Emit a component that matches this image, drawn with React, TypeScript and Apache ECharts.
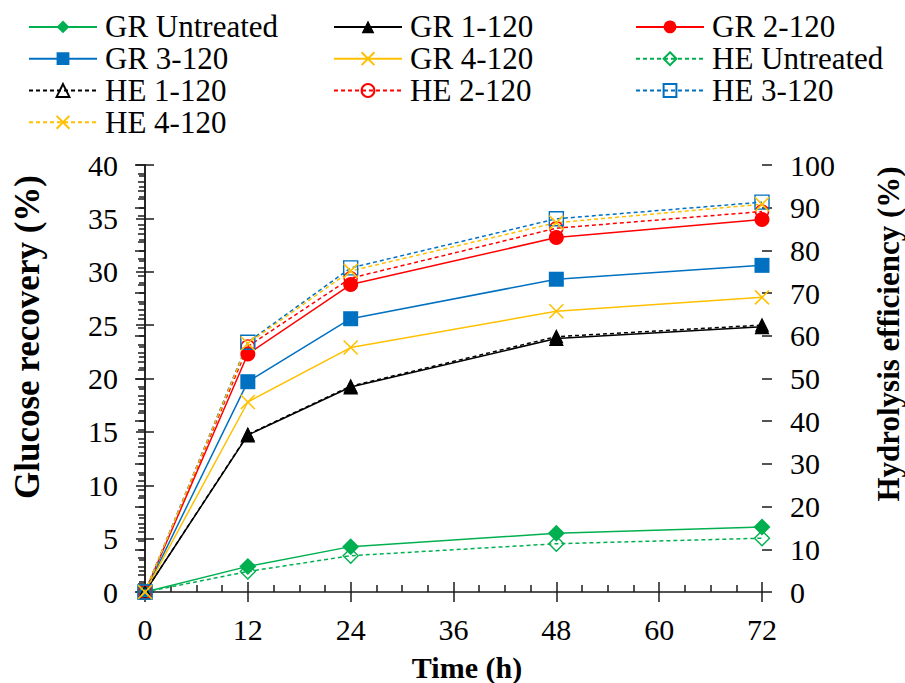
import React, { useEffect, useRef } from "react";
import * as echarts from "echarts";

const times = [0, 12, 24, 48, 72];
const grUntreated = [0, 2.4, 4.25, 5.5, 6.1];
const gr1 = [0, 14.7, 19.2, 23.75, 24.85];
const gr2 = [0, 22.3, 28.8, 33.2, 34.9];
const gr3 = [0, 19.7, 25.6, 29.3, 30.6];
const gr4 = [0, 17.8, 22.9, 26.3, 27.6];
const heUntreated = [0, 4.8, 8.5, 11.3, 12.6];
const he1 = [0, 36.9, 48.2, 59.8, 62.5];
const he2 = [0, 57.5, 73.5, 85.2, 89.1];
const he3 = [0, 58.5, 75.9, 87.4, 91.3];
const he4 = [0, 58.2, 75.2, 86.5, 90.8];

const xTicks = [0, 12, 24, 36, 48, 60, 72];
const leftTicks = [0, 40, 5];
const rightTicks = [0, 100, 10];

const legendCol1 = ["GR Untreated", "GR 3-120", "HE 1-120", "HE 4-120"];
const legendCol2 = ["GR 1-120", "GR 4-120", "HE 2-120"];
const legendCol3 = ["GR 2-120", "HE Untreated", "HE 3-120"];

const GREEN = "#00B050";
const BLACK = "#000000";
const RED = "#FF0000";
const BLUE = "#0070C0";
const YELLOW = "#FFC000";
const XSYM = "path://M0,0L10,10M10,0L0,10";
const FONT = "Liberation Serif";

function mk(name: string, vals: number[], color: string, symbol: string, size: number, dashed: boolean, yIdx: number, empty: boolean) {
  const isX = symbol === XSYM;
  return {
    name,
    type: "line",
    xAxisIndex: 0,
    yAxisIndex: yIdx,
    data: times.map((t, i) => [t, vals[i]]),
    symbol,
    symbolSize: size,
    lineStyle: { color, width: 1.5, type: dashed ? [4, 3] : "solid" },
    itemStyle: {
      color: empty ? "rgba(255,255,255,0)" : color,
      borderColor: color,
      borderWidth: isX ? 1.6 : empty ? 1.4 : 0,
    },
    emphasis: { disabled: true },
  };
}

const richLabel = (margin: number) => ({
  margin,
  formatter: (v: number) => `{t|${v}}`,
  rich: { t: { color: "#000", fontFamily: FONT, fontSize: 30 } },
});

const richTitle = (text: string, size: number) => ({
  text: `{t|${text}}`,
  align: "center",
  verticalAlign: "middle",
  rich: { t: { fontFamily: FONT, fontSize: size, fontWeight: "bold", fill: "#000" } },
});

export default function App() {
  const ref = useRef<HTMLDivElement>(null);
  useEffect(() => {
    if (!ref.current) return;
    const chart = echarts.init(ref.current, null, { renderer: "svg" });
    const axisLine = { show: true, lineStyle: { color: "#1a1a1a", width: 1.5 } };
    const tickStyle = { color: "#1a1a1a", width: 1.5 };
    const legendBase = {
      orient: "vertical",
      top: 11,
      padding: 0,
      itemGap: 0,
      itemWidth: 68,
      itemHeight: 16,
      selectedMode: false,
      textStyle: { color: "#000", fontFamily: FONT, fontSize: 31, lineHeight: 31.8, padding: [0, 0, 0, 3] },
    };
    const option: any = {
      animation: false,
      backgroundColor: "#fff",
      textStyle: { fontFamily: FONT },
      legend: [
        { ...legendBase, left: 28, data: legendCol1 },
        { ...legendBase, left: 333, data: legendCol2 },
        { ...legendBase, left: 635, data: legendCol3 },
      ],
      grid: { left: 145, right: 143, top: 165, bottom: 91 },
      xAxis: [
        {
          type: "value", min: xTicks[0], max: xTicks[xTicks.length - 1], interval: 12, position: "bottom",
          axisLine, splitLine: { show: false },
          axisTick: { show: true, inside: true, length: 10, lineStyle: tickStyle },
          minorTick: { show: true, splitNumber: 4, length: 7, lineStyle: tickStyle },
          axisLabel: richLabel(22),
        },
        {
          type: "value", min: xTicks[0], max: xTicks[xTicks.length - 1], interval: 12, position: "bottom",
          axisLine: { show: false }, splitLine: { show: false },
          axisTick: { show: true, inside: false, length: 10, lineStyle: tickStyle },
          axisLabel: { show: false },
        },
      ],
      yAxis: [
        {
          type: "value", min: leftTicks[0], max: leftTicks[1], interval: leftTicks[2], position: "left",
          axisLine, splitLine: { show: false },
          axisTick: { show: true, inside: false, length: 9, lineStyle: tickStyle },
          minorTick: { show: true, splitNumber: 5, length: 6, lineStyle: tickStyle },
          axisLabel: richLabel(27),
        },
        {
          type: "value", min: rightTicks[0], max: rightTicks[1], interval: rightTicks[2], position: "right",
          axisLine, splitLine: { show: false },
          axisTick: { show: true, inside: true, length: 10, lineStyle: tickStyle },
          minorTick: { show: true, splitNumber: 5, length: 7, lineStyle: tickStyle },
          axisLabel: richLabel(28),
        },
        {
          type: "value", min: leftTicks[0], max: leftTicks[1], interval: leftTicks[2], position: "left",
          axisLine: { show: false }, splitLine: { show: false },
          axisTick: { show: true, inside: true, length: 9, lineStyle: tickStyle },
          axisLabel: { show: false },
        },
        {
          type: "value", min: rightTicks[0], max: rightTicks[1], interval: rightTicks[2], position: "right",
          axisLine: { show: false }, splitLine: { show: false },
          axisTick: { show: true, inside: false, length: 10, lineStyle: tickStyle },
          axisLabel: { show: false },
        },
      ],
      graphic: [
        { type: "text", x: 27, y: 337, rotation: Math.PI / 2, style: richTitle("Glucose recovery (%)", 35) },
        { type: "text", x: 888, y: 334, rotation: Math.PI / 2, style: richTitle("Hydrolysis efficiency (%)", 31) },
        { type: "text", x: 467, y: 667, style: richTitle("Time (h)", 30) },
      ],
      series: [
        mk("GR Untreated", grUntreated, GREEN, "diamond", 17, false, 0, false),
        mk("GR 1-120", gr1, BLACK, "triangle", 15, false, 0, false),
        mk("GR 2-120", gr2, RED, "circle", 15, false, 0, false),
        mk("GR 3-120", gr3, BLUE, "rect", 15, false, 0, false),
        mk("GR 4-120", gr4, YELLOW, XSYM, 14, false, 0, false),
        mk("HE Untreated", heUntreated, GREEN, "diamond", 15, true, 1, true),
        mk("HE 1-120", he1, BLACK, "triangle", 12, true, 1, true),
        mk("HE 2-120", he2, RED, "circle", 13, true, 1, true),
        mk("HE 3-120", he3, BLUE, "rect", 14, true, 1, true),
        mk("HE 4-120", he4, YELLOW, XSYM, 14, true, 1, false),
      ],
    };
    chart.setOption(option);
    return () => chart.dispose();
  }, []);
  return <div ref={ref} style={{ position: "fixed", left: 0, top: 0, width: 905, height: 683 }} />;
}
